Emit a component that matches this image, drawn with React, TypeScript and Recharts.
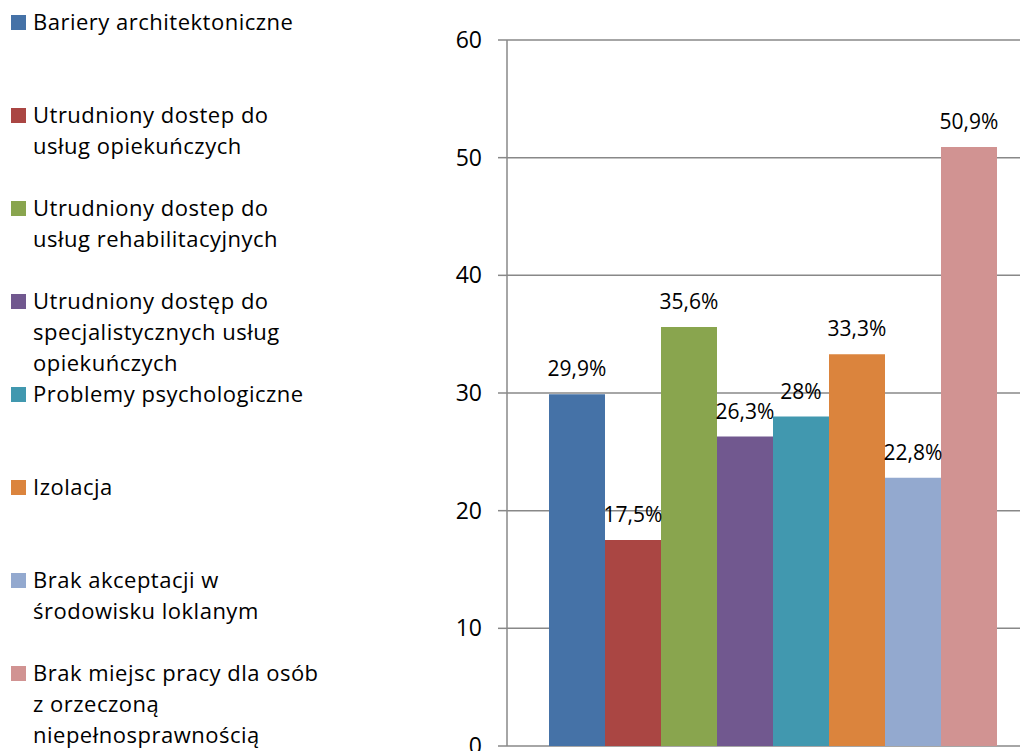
import { BarChart, Bar, XAxis, YAxis, CartesianGrid, LabelList } from 'recharts';

const categories = [
  'Bariery architektoniczne',
  'Utrudniony dostep do\nusług opiekuńczych',
  'Utrudniony dostep do\nusług rehabilitacyjnych',
  'Utrudniony dostęp do\nspecjalistycznych usług\nopiekuńczych',
  'Problemy psychologiczne',
  'Izolacja',
  'Brak akceptacji w\nśrodowisku loklanym',
  'Brak miejsc pracy dla osób\nz orzeczoną\nniepełnosprawnością',
];
const values = [29.9, 17.5, 35.6, 26.3, 28, 33.3, 22.8, 50.9];
const colors = ['#4572A7', '#AA4643', '#89A54E', '#71588F', '#4198AF', '#DB843D', '#93A9CF', '#D19392'];
const yTicks = [0, 10, 20, 30, 40, 50, 60];

const FONT = '"Open Sans", "Noto Sans", sans-serif';

const row: Record<string, number | string> = { name: '' };
values.forEach((v, i) => {
  row[`s${i}`] = v;
});
const data = [row];

const fmt = (v: number) => `${String(v).replace('.', ',')}%`;

const Legend = () => (
  <div style={{ position: 'absolute', left: 0, top: 6, width: 340 }}>
    {categories.map((c, i) => (
      <div key={i} style={{ position: 'relative', height: 93, paddingLeft: 33 }}>
        <span
          style={{
            position: 'absolute',
            left: 11,
            top: 9,
            width: 15,
            height: 15,
            background: colors[i],
          }}
        />
        <div
          style={{
            whiteSpace: 'pre-line',
            fontSize: 22,
            letterSpacing: 0.5,
            lineHeight: '31px',
            color: '#000',
          }}
        >
          {c}
        </div>
      </div>
    ))}
  </div>
);

export default function App() {
  return (
    <div
      style={{
        position: 'absolute',
        left: 0,
        top: 0,
        width: 1020,
        height: 751,
        overflow: 'hidden',
        background: '#fff',
        fontFamily: FONT,
      }}
    >
      <Legend />
      <div style={{ position: 'absolute', left: 0, top: 0 }}>
        <BarChart
          width={1040}
          height={751}
          data={data}
          margin={{ top: 40, right: 5, bottom: 5, left: 0 }}
          barCategoryGap={42}
          barGap={0}
        >
          <CartesianGrid vertical={false} stroke="#888" strokeWidth={1.5} />
          <XAxis dataKey="name" hide />
          <YAxis
            width={507}
            domain={[0, 60]}
            ticks={yTicks}
            interval={0}
            tickSize={9}
            tickMargin={16}
            axisLine={{ stroke: '#888', strokeWidth: 1.5 }}
            tickLine={{ stroke: '#888', strokeWidth: 1.5 }}
            tick={{ fill: '#000', fontSize: 23, fontFamily: FONT }}
          />
          {values.map((_, i) => (
            <Bar key={i} dataKey={`s${i}`} name={categories[i]} fill={colors[i]} isAnimationActive={false}>
              <LabelList dataKey={`s${i}`} position="top" offset={18} formatter={fmt} fill="#000" fontSize={21} fontFamily={FONT} />
            </Bar>
          ))}
        </BarChart>
      </div>
    </div>
  );
}
